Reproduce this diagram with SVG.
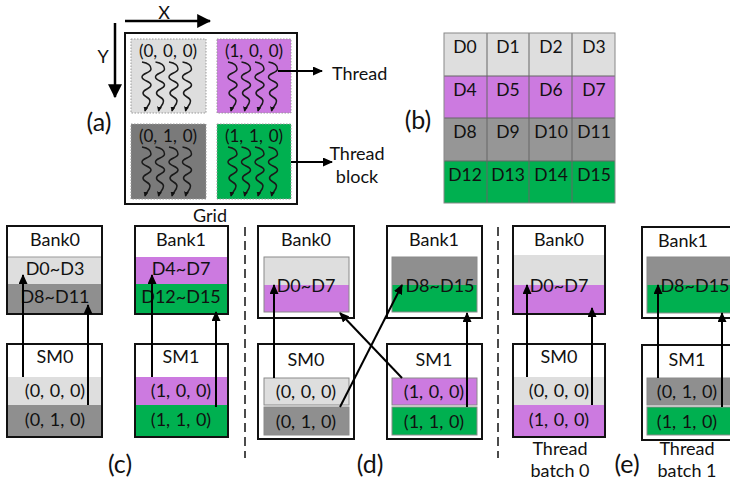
<svg xmlns="http://www.w3.org/2000/svg" width="730" height="481" viewBox="0 0 730 481">
<style>
text{font-family:Lato,"Open Sans","Liberation Sans",sans-serif;fill:#111;}
.t16{font-size:18px;text-anchor:middle;}
.t17{font-size:18px;text-anchor:middle;}
.tp{font-size:18px;text-anchor:middle;word-spacing:1px;}
.ta{font-size:17px;text-anchor:middle;word-spacing:1.5px;}
.tb{font-size:17.5px;text-anchor:middle;}
.lbl{font-size:25px;text-anchor:middle;}
.box{fill:#fff;stroke:#111;stroke-width:2;}
.inner{stroke:#8a8a8a;stroke-width:1;}
.lg{fill:#dedede;}
.pu{fill:#cc7ae0;}
.dg{fill:#8f8f8f;}
.gr{fill:#00b050;}
.blk{stroke:#9a9a9a;stroke-width:1;stroke-dasharray:1.5,1.5;}
.cell{stroke:#666;stroke-width:1;}
.arr{stroke:#000;stroke-width:2;fill:none;marker-end:url(#ah);}
.dash{stroke:#111;stroke-width:1.5;stroke-dasharray:9,5;}
.wave{fill:none;stroke:#1a1a1a;stroke-width:1.5;marker-end:url(#tiny);}
</style>
<defs>
<marker id="ah" viewBox="0 0 10 9" refX="9" refY="4.5" markerWidth="10" markerHeight="9" markerUnits="userSpaceOnUse" orient="auto"><path d="M0,0 L10,4.5 L0,9 z" fill="#000"/></marker>
<marker id="big" viewBox="0 0 12 12" refX="11" refY="6" markerWidth="14" markerHeight="14" markerUnits="userSpaceOnUse" orient="auto"><path d="M0,0 L12,6 L0,12 z" fill="#000"/></marker>
<marker id="tiny" viewBox="0 0 6 6" refX="5" refY="3" markerWidth="5" markerHeight="5" markerUnits="userSpaceOnUse" orient="auto"><path d="M0,0 L6,3 L0,6 z" fill="#111"/></marker>
<path id="wave" class="wave" d="M0,0 C6,1 9,3 9,7 S0,11 0,15 S9,19 9,23 S1,27 1,31 S8,35 8,39 S4,45 3,49"/>
<g id="wave4">
<use href="#wave" x="0" y="0"/>
<use href="#wave" x="13.5" y="0"/>
<use href="#wave" x="27" y="0"/>
<use href="#wave" x="40.5" y="0"/>
</g>
</defs>
<rect width="730" height="481" fill="#fff"/>

<!-- (a) grid -->
<g id="grid-a">
<rect x="125" y="33" width="172" height="171" fill="#fff" stroke="#111" stroke-width="2"/>
<text x="210" y="222" class="t16">Grid</text>
<text x="99" y="131" class="lbl">(a)</text>
</g>
<g id="axis-x"><line x1="125" y1="21" x2="210" y2="21" stroke="#000" stroke-width="2.5" marker-end="url(#big)"/><text x="164" y="19" class="t16">X</text></g>
<g id="axis-y"><line x1="115" y1="23" x2="115" y2="97" stroke="#000" stroke-width="2.5" marker-end="url(#big)"/><text x="103" y="63" class="t16">Y</text></g>
<g id="block-000">
<rect x="131" y="39" width="75" height="74" class="lg blk"/>
<text x="168" y="57" class="ta">(0, 0, 0)</text>
<use href="#wave4" x="142" y="62"/>
</g>
<g id="block-100">
<rect x="217" y="39" width="74" height="74" class="pu blk"/>
<text x="254" y="57" class="ta">(1, 0, 0)</text>
<use href="#wave4" x="228" y="62"/>
</g>
<g id="block-010">
<rect x="131" y="124" width="75" height="75" fill="#7a7a7a" class="blk"/>
<text x="168" y="142" class="ta">(0, 1, 0)</text>
<use href="#wave4" x="142" y="147"/>
</g>
<g id="block-110">
<rect x="217" y="124" width="74" height="75" class="gr blk"/>
<text x="254" y="142" class="ta">(1, 1, 0)</text>
<use href="#wave4" x="228" y="147"/>
</g>
<g id="label-thread"><text x="332" y="80" font-size="18">Thread</text></g>
<g id="label-threadblock"><text x="357" y="160" class="t17">Thread</text><text x="357" y="183" class="t17">block</text></g>

<!-- (b) table -->
<g id="table-b">
<text x="418" y="129" class="lbl">(b)</text>
<rect x="444" y="33" width="171" height="43" class="lg"/>
<rect x="444" y="76" width="171" height="42" class="pu"/>
<rect x="444" y="118" width="171" height="43" fill="#969696"/>
<rect x="444" y="161" width="171" height="42" class="gr"/>
<g class="cell">
<line x1="444" y1="76" x2="615" y2="76"/><line x1="444" y1="118" x2="615" y2="118"/><line x1="444" y1="161" x2="615" y2="161"/>
<line x1="487" y1="33" x2="487" y2="203"/><line x1="529" y1="33" x2="529" y2="203"/><line x1="572" y1="33" x2="572" y2="203"/>
<rect x="444" y="33" width="171" height="170" fill="none" stroke="#888"/>
</g>
<text x="465" y="53" class="tb">D0</text><text x="508" y="53" class="tb">D1</text><text x="551" y="53" class="tb">D2</text><text x="594" y="53" class="tb">D3</text>
<text x="465" y="96" class="tb">D4</text><text x="508" y="96" class="tb">D5</text><text x="551" y="96" class="tb">D6</text><text x="594" y="96" class="tb">D7</text>
<text x="465" y="138" class="tb">D8</text><text x="508" y="138" class="tb">D9</text><text x="551" y="138" class="tb">D10</text><text x="594" y="138" class="tb">D11</text>
<text x="465" y="181" class="tb">D12</text><text x="508" y="181" class="tb">D13</text><text x="551" y="181" class="tb">D14</text><text x="594" y="181" class="tb">D15</text>
</g>

<!-- dashed separators -->
<line x1="245" y1="227" x2="245" y2="458" class="dash"/>
<line x1="498" y1="227" x2="498" y2="458" class="dash"/>

<!-- (c) -->
<g id="c-bank0">
<rect x="7" y="226" width="95" height="88" class="box"/>
<rect x="8" y="257" width="93" height="27" class="lg"/>
<rect x="8" y="284" width="93" height="29" class="dg"/>
<line x1="8" y1="257" x2="101" y2="257" stroke="#999" stroke-width="1"/>
<rect x="7" y="226" width="95" height="88" fill="none" stroke="#111" stroke-width="2"/>
<text x="55" y="246" class="t16">Bank0</text>
<text x="55" y="275" class="t16">D0~D3</text>
<text x="55" y="303" class="t16">D8~D11</text>
</g>
<g id="c-bank1">
<rect x="135" y="226" width="93" height="88" class="box"/>
<rect x="136" y="257" width="91" height="27" class="pu"/>
<rect x="136" y="284" width="91" height="29" class="gr"/>
<rect x="135" y="226" width="93" height="88" fill="none" stroke="#111" stroke-width="2"/>
<text x="181" y="246" class="t16">Bank1</text>
<text x="181" y="275" class="t16">D4~D7</text>
<text x="181" y="303" class="t16">D12~D15</text>
</g>
<g id="c-sm0">
<rect x="7" y="344" width="95" height="93" class="box"/>
<rect x="8" y="377" width="93" height="28" class="lg"/>
<rect x="8" y="405" width="93" height="31" class="dg"/>
<rect x="7" y="344" width="95" height="93" fill="none" stroke="#111" stroke-width="2"/>
<text x="55" y="363" class="t16">SM0</text>
<text x="55" y="397" class="tp">(0, 0, 0)</text>
<text x="55" y="426" class="tp">(0, 1, 0)</text>
</g>
<g id="c-sm1">
<rect x="135" y="344" width="93" height="93" class="box"/>
<rect x="136" y="377" width="91" height="28" class="pu"/>
<rect x="136" y="405" width="91" height="31" class="gr"/>
<rect x="135" y="344" width="93" height="93" fill="none" stroke="#111" stroke-width="2"/>
<text x="181" y="363" class="t16">SM1</text>
<text x="181" y="397" class="tp">(1, 0, 0)</text>
<text x="181" y="426" class="tp">(1, 1, 0)</text>
</g>
<text x="120" y="473" class="lbl">(c)</text>

<!-- (d) -->
<g id="d-bank0">
<rect x="258" y="226" width="96" height="92" class="box"/>
<rect x="264" y="257" width="85" height="28" class="lg"/>
<rect x="264" y="285" width="85" height="27" class="pu"/>
<rect x="264" y="257" width="85" height="55" fill="none" class="inner"/>
<text x="306" y="246" class="t16">Bank0</text>
<text x="306" y="292" class="t16">D0~D7</text>
</g>
<g id="d-bank1">
<rect x="387" y="226" width="95" height="92" class="box"/>
<rect x="392" y="257" width="85" height="28" class="dg"/>
<rect x="392" y="285" width="85" height="27" class="gr"/>
<rect x="392" y="257" width="85" height="55" fill="none" class="inner"/>
<text x="434" y="246" class="t16">Bank1</text>
<text x="440" y="292" class="t16">D8~D15</text>
</g>
<g id="d-sm0">
<rect x="258" y="344" width="96" height="95" class="box"/>
<rect x="264" y="378" width="85" height="27" class="lg inner"/>
<rect x="264" y="407" width="85" height="28" class="dg inner"/>
<text x="306" y="366" class="t16">SM0</text>
<text x="306" y="398" class="tp">(0, 0, 0)</text>
<text x="306" y="428" class="tp">(0, 1, 0)</text>
</g>
<g id="d-sm1">
<rect x="387" y="344" width="95" height="95" class="box"/>
<rect x="392" y="378" width="85" height="27" class="pu inner"/>
<rect x="392" y="407" width="85" height="28" class="gr inner"/>
<text x="434" y="366" class="t16">SM1</text>
<text x="434" y="398" class="tp">(1, 0, 0)</text>
<text x="434" y="428" class="tp">(1, 1, 0)</text>
</g>
<text x="370" y="473" class="lbl">(d)</text>

<!-- (e) -->
<g id="e-bank0">
<rect x="513" y="226" width="92" height="88" class="box"/>
<rect x="514" y="255" width="90" height="30" class="lg"/>
<rect x="514" y="285" width="90" height="28" class="pu"/>
<rect x="513" y="226" width="92" height="88" fill="none" stroke="#111" stroke-width="2"/>
<text x="559" y="246" class="t16">Bank0</text>
<text x="559" y="292" class="t16">D0~D7</text>
</g>
<g id="e-sm0">
<rect x="513" y="344" width="92" height="93" class="box"/>
<rect x="514" y="377" width="90" height="28" class="lg"/>
<rect x="514" y="405" width="90" height="31" class="pu"/>
<rect x="513" y="344" width="92" height="93" fill="none" stroke="#111" stroke-width="2"/>
<text x="559" y="363" class="t16">SM0</text>
<text x="559" y="397" class="tp">(0, 0, 0)</text>
<text x="559" y="426" class="tp">(1, 0, 0)</text>
</g>
<g id="e-bank1">
<rect x="642" y="227" width="95" height="91" class="box"/>
<rect x="647" y="257" width="85" height="28" class="dg"/>
<rect x="647" y="285" width="85" height="28" class="gr"/>
<rect x="647" y="257" width="85" height="56" fill="none" class="inner"/>
<text x="683" y="247" class="t16">Bank1</text>
<text x="695" y="292" class="t16">D8~D15</text>
</g>
<g id="e-sm1">
<rect x="642" y="345" width="95" height="95" class="box"/>
<rect x="647" y="378" width="85" height="27" class="dg inner"/>
<rect x="647" y="407" width="85" height="28" class="gr inner"/>
<text x="687" y="366" class="t16">SM1</text>
<text x="687" y="398" class="tp">(0, 1, 0)</text>
<text x="687" y="428" class="tp">(1, 1, 0)</text>
</g>
<g id="e-labels">
<text x="560" y="455" class="t17">Thread</text>
<text x="560" y="477" class="t17">batch 0</text>
<text x="627" y="473" class="lbl">(e)</text>
<text x="687" y="455" class="t17">Thread</text>
<text x="687" y="477" class="t17">batch 1</text>
</g>

<!-- connectors -->
<g id="connectors">
<line x1="278" y1="71" x2="322" y2="71" class="arr"/>
<line x1="291" y1="162" x2="332" y2="162" class="arr"/>
<line x1="23" y1="377" x2="23" y2="275" class="arr"/>
<line x1="88" y1="405" x2="88" y2="305" class="arr"/>
<line x1="152" y1="377" x2="152" y2="275" class="arr"/>
<line x1="216" y1="407" x2="216" y2="312" class="arr"/>
<line x1="274" y1="378" x2="274" y2="285" class="arr"/>
<line x1="340" y1="407" x2="402" y2="285" class="arr"/>
<line x1="402" y1="378" x2="340" y2="313" class="arr"/>
<line x1="467" y1="407" x2="467" y2="313" class="arr"/>
<line x1="527" y1="377" x2="527" y2="285" class="arr"/>
<line x1="592" y1="405" x2="592" y2="308" class="arr"/>
<line x1="658" y1="378" x2="658" y2="285" class="arr"/>
<line x1="722" y1="407" x2="722" y2="313" class="arr"/>
</g>
</svg>
